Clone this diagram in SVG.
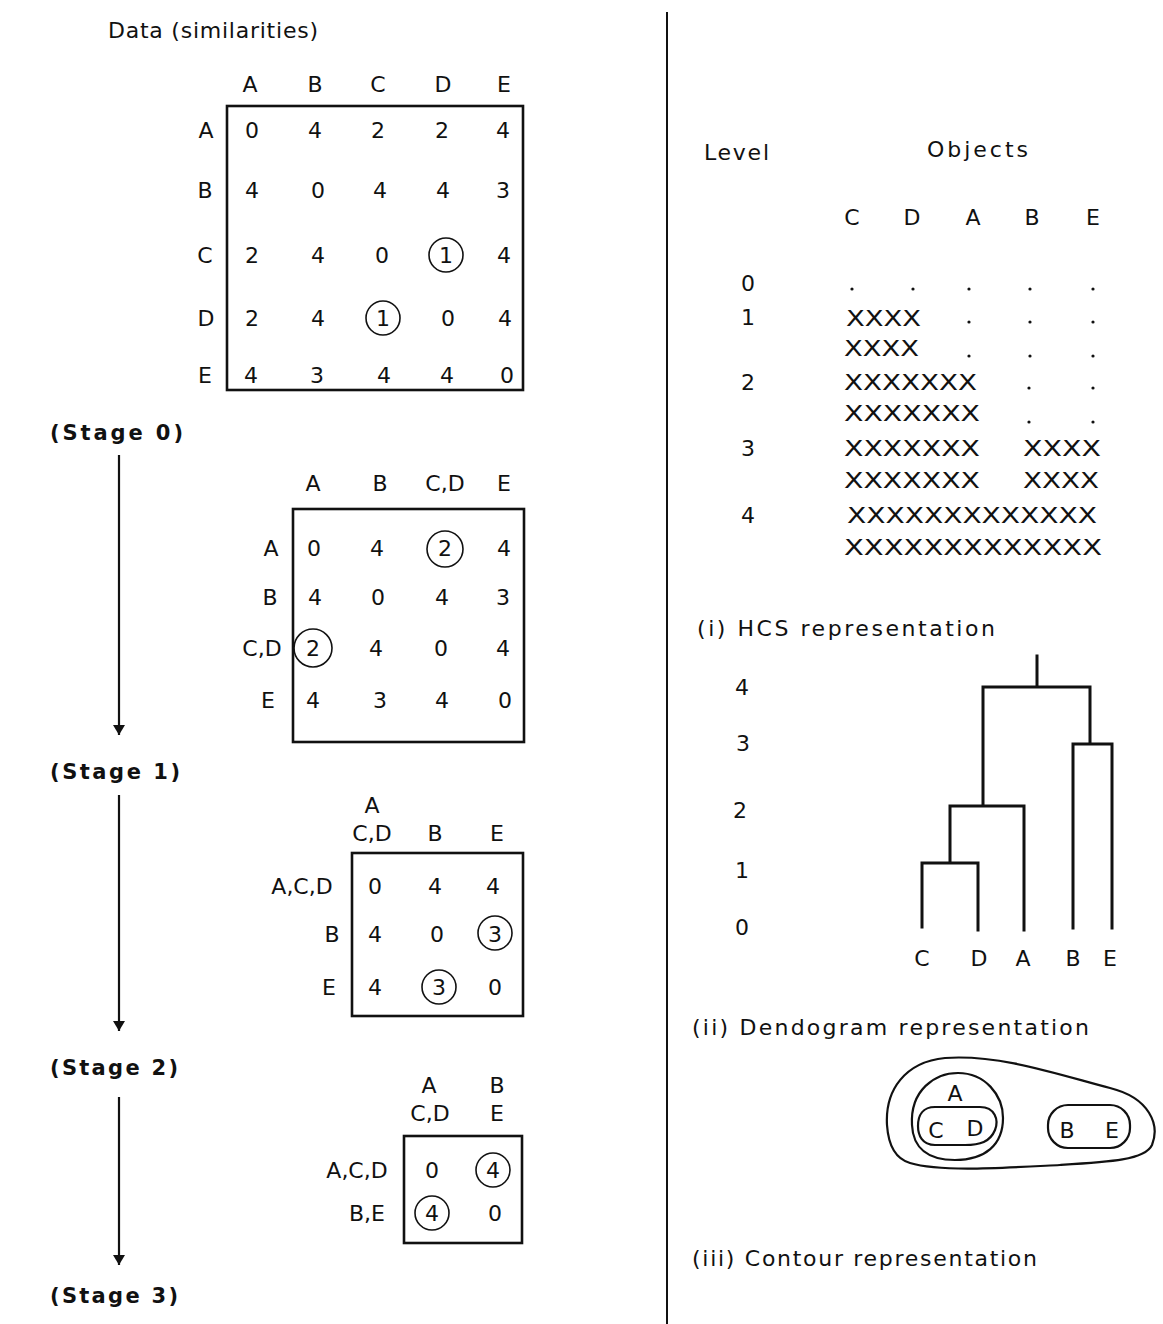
<svg xmlns="http://www.w3.org/2000/svg" width="1163" height="1324" viewBox="0 0 1163 1324">
<style>
text{font-family:"DejaVu Sans","Liberation Sans",Arial,sans-serif;font-size:22px;fill:#111}
.c{text-anchor:middle}
.st{font-weight:bold;font-size:21px}
.box{fill:none;stroke:#111;stroke-width:2.6}
.ring{fill:none;stroke:#111;stroke-width:1.6}
.ln{fill:none;stroke:#111;stroke-width:2.2}
.dg{fill:none;stroke:#111;stroke-width:3;stroke-linecap:square}
.ct{fill:none;stroke:#111;stroke-width:2.2}
.dot{fill:#111}
</style>
<defs>
<marker id="ah" viewBox="0 0 10 20" refX="10" refY="10" markerWidth="10" markerHeight="20" orient="auto" markerUnits="userSpaceOnUse">
<path d="M0,4 L10,10 L0,16 Z" fill="#111"/>
</marker>
</defs>
<rect width="1163" height="1324" fill="#fff"/>

<g id="title"><text x="108" y="38" textLength="210" lengthAdjust="spacing">Data (similarities)</text></g>

<g id="matrix0">
<rect class="box" x="227" y="106" width="296" height="284"/>
<g class="c">
<text x="250" y="92">A</text><text x="315" y="92">B</text><text x="378" y="92">C</text><text x="443" y="92">D</text><text x="504" y="92">E</text>
<text x="206" y="138">A</text><text x="205" y="198">B</text><text x="205" y="263">C</text><text x="206" y="326">D</text><text x="205" y="383">E</text>
<text x="252" y="138">0</text><text x="315" y="138">4</text><text x="378" y="138">2</text><text x="442" y="138">2</text><text x="503" y="138">4</text>
<text x="252" y="198">4</text><text x="318" y="198">0</text><text x="380" y="198">4</text><text x="443" y="198">4</text><text x="503" y="198">3</text>
<text x="252" y="263">2</text><text x="318" y="263">4</text><text x="382" y="263">0</text><text x="446" y="263">1</text><text x="504" y="263">4</text>
<text x="252" y="326">2</text><text x="318" y="326">4</text><text x="383" y="326">1</text><text x="448" y="326">0</text><text x="505" y="326">4</text>
<text x="251" y="383">4</text><text x="317" y="383">3</text><text x="384" y="383">4</text><text x="447" y="383">4</text><text x="507" y="383">0</text>
</g>
<circle class="ring" cx="446" cy="255" r="17"/>
<circle class="ring" cx="383" cy="318" r="17"/>
</g>

<g id="matrix1">
<rect class="box" x="293" y="509" width="231" height="233"/>
<g class="c">
<text x="313" y="491">A</text><text x="380" y="491">B</text><text x="445" y="491">C,D</text><text x="504" y="491">E</text>
<text x="271" y="556">A</text><text x="270" y="605">B</text><text x="262" y="656">C,D</text><text x="268" y="708">E</text>
<text x="314" y="556">0</text><text x="377" y="556">4</text><text x="445" y="556">2</text><text x="504" y="556">4</text>
<text x="315" y="605">4</text><text x="378" y="605">0</text><text x="442" y="605">4</text><text x="503" y="605">3</text>
<text x="313" y="656">2</text><text x="376" y="656">4</text><text x="441" y="656">0</text><text x="503" y="656">4</text>
<text x="313" y="708">4</text><text x="380" y="708">3</text><text x="442" y="708">4</text><text x="505" y="708">0</text>
</g>
<circle class="ring" cx="445" cy="549" r="18"/>
<circle class="ring" cx="313" cy="648" r="19"/>
</g>

<g id="matrix2">
<rect class="box" x="352" y="853" width="171" height="163"/>
<g class="c">
<text x="372" y="813">A</text><text x="372" y="841">C,D</text><text x="435" y="841">B</text><text x="497" y="841">E</text>
<text x="302" y="894">A,C,D</text><text x="332" y="942">B</text><text x="329" y="995">E</text>
<text x="375" y="894">0</text><text x="435" y="894">4</text><text x="493" y="894">4</text>
<text x="375" y="942">4</text><text x="437" y="942">0</text><text x="495" y="942">3</text>
<text x="375" y="995">4</text><text x="439" y="995">3</text><text x="495" y="995">0</text>
</g>
<circle class="ring" cx="495" cy="933" r="17"/>
<circle class="ring" cx="439" cy="987" r="17"/>
</g>

<g id="matrix3">
<rect class="box" x="404" y="1136" width="118" height="107"/>
<g class="c">
<text x="429" y="1093">A</text><text x="497" y="1093">B</text><text x="430" y="1121">C,D</text><text x="497" y="1121">E</text>
<text x="357" y="1178">A,C,D</text><text x="367" y="1221">B,E</text>
<text x="432" y="1178">0</text><text x="493" y="1178">4</text>
<text x="432" y="1221">4</text><text x="495" y="1221">0</text>
</g>
<circle class="ring" cx="493" cy="1170" r="17"/>
<circle class="ring" cx="432" cy="1213" r="17"/>
</g>

<g id="stages">
<text class="st" x="50" y="440" textLength="133" lengthAdjust="spacing">(Stage 0)</text>
<text class="st" x="50" y="779" textLength="130" lengthAdjust="spacing">(Stage 1)</text>
<text class="st" x="50" y="1075" textLength="128" lengthAdjust="spacing">(Stage 2)</text>
<text class="st" x="50" y="1303" textLength="128" lengthAdjust="spacing">(Stage 3)</text>
</g>

<g id="connectors">
<line class="ln" x1="119" y1="455" x2="119" y2="735" marker-end="url(#ah)"/>
<line class="ln" x1="119" y1="795" x2="119" y2="1031" marker-end="url(#ah)"/>
<line class="ln" x1="119" y1="1097" x2="119" y2="1265" marker-end="url(#ah)"/>
</g>

<g id="divider"><line x1="667" y1="12" x2="667" y2="1324" stroke="#111" stroke-width="2"/></g>

<g id="hcs">
<text x="704" y="160" textLength="65" lengthAdjust="spacing">Level</text>
<text x="927" y="157" textLength="101" lengthAdjust="spacing">Objects</text>
<g class="c">
<text x="852" y="225">C</text><text x="912" y="225">D</text><text x="973" y="225">A</text><text x="1032" y="225">B</text><text x="1093" y="225">E</text>
<text x="748" y="291">0</text><text x="748" y="325">1</text><text x="748" y="390">2</text><text x="748" y="456">3</text><text x="748" y="523">4</text>
</g>
<g>
<circle class="dot" cx="852" cy="289" r="1.6"/><circle class="dot" cx="913" cy="289" r="1.6"/><circle class="dot" cx="969" cy="289" r="1.6"/><circle class="dot" cx="1030" cy="289" r="1.6"/><circle class="dot" cx="1093" cy="289" r="1.6"/>
<circle class="dot" cx="969" cy="322" r="1.6"/><circle class="dot" cx="1030" cy="322" r="1.6"/><circle class="dot" cx="1093" cy="322" r="1.6"/>
<circle class="dot" cx="969" cy="356" r="1.6"/><circle class="dot" cx="1030" cy="356" r="1.6"/><circle class="dot" cx="1093" cy="356" r="1.6"/>
<circle class="dot" cx="1029" cy="388" r="1.6"/><circle class="dot" cx="1093" cy="388" r="1.6"/>
<circle class="dot" cx="1029" cy="422" r="1.6"/><circle class="dot" cx="1093" cy="422" r="1.6"/>
</g>
<text x="846" y="326" textLength="75" lengthAdjust="spacingAndGlyphs">XXXX</text>
<text x="844" y="356" textLength="75" lengthAdjust="spacingAndGlyphs">XXXX</text>
<text x="844" y="390" textLength="133" lengthAdjust="spacingAndGlyphs">XXXXXXX</text>
<text x="844" y="421" textLength="136" lengthAdjust="spacingAndGlyphs">XXXXXXX</text>
<text x="844" y="456" textLength="136" lengthAdjust="spacingAndGlyphs">XXXXXXX</text>
<text x="1023" y="456" textLength="78" lengthAdjust="spacingAndGlyphs">XXXX</text>
<text x="844" y="488" textLength="136" lengthAdjust="spacingAndGlyphs">XXXXXXX</text>
<text x="1023" y="488" textLength="76" lengthAdjust="spacingAndGlyphs">XXXX</text>
<text x="847" y="523" textLength="250" lengthAdjust="spacingAndGlyphs">XXXXXXXXXXXXX</text>
<text x="844" y="555" textLength="258" lengthAdjust="spacingAndGlyphs">XXXXXXXXXXXXX</text>
<text x="697" y="636" textLength="298" lengthAdjust="spacing">(i) HCS representation</text>
</g>

<g id="dendrogram">
<g class="c">
<text x="742" y="695">4</text><text x="743" y="751">3</text><text x="740" y="818">2</text><text x="742" y="878">1</text><text x="742" y="935">0</text>
<text x="922" y="966">C</text><text x="979" y="966">D</text><text x="1023" y="966">A</text><text x="1073" y="966">B</text><text x="1110" y="966">E</text>
</g>
<path class="dg" d="M1037,656 V687 M983,805 V687 H1090 V744 M1073,928 V744 H1112 V928 M1024,930 V806 H950 V863 M922,927 V863 H978 V930"/>
<text x="692" y="1035" textLength="397" lengthAdjust="spacing">(ii) Dendogram representation</text>
</g>

<g id="contour">
<path class="ct" d="M887,1125 C885,1090 905,1062 945,1058 C1000,1054 1060,1075 1110,1088 C1150,1098 1160,1125 1152,1145 C1145,1160 1110,1162 1060,1165 C1000,1168 940,1172 910,1163 C893,1158 888,1140 887,1125 Z"/>
<path class="ct" d="M912,1125 C910,1090 935,1073 958,1073 C985,1073 1003,1095 1003,1118 C1003,1145 985,1160 955,1160 C928,1160 913,1148 912,1125 Z"/>
<path class="ct" d="M935,1107 L980,1107 C995,1107 999,1120 995,1130 C990,1142 980,1145 965,1145 L935,1145 C922,1145 918,1135 918,1126 C918,1115 923,1107 935,1107 Z"/>
<rect class="ct" x="1048" y="1105" width="82" height="43" rx="20"/>
<g class="c">
<text x="955" y="1101">A</text><text x="936" y="1138">C</text><text x="975" y="1136">D</text><text x="1067" y="1138">B</text><text x="1112" y="1138">E</text>
</g>
<text x="692" y="1266" textLength="345" lengthAdjust="spacing">(iii) Contour representation</text>
</g>
</svg>
